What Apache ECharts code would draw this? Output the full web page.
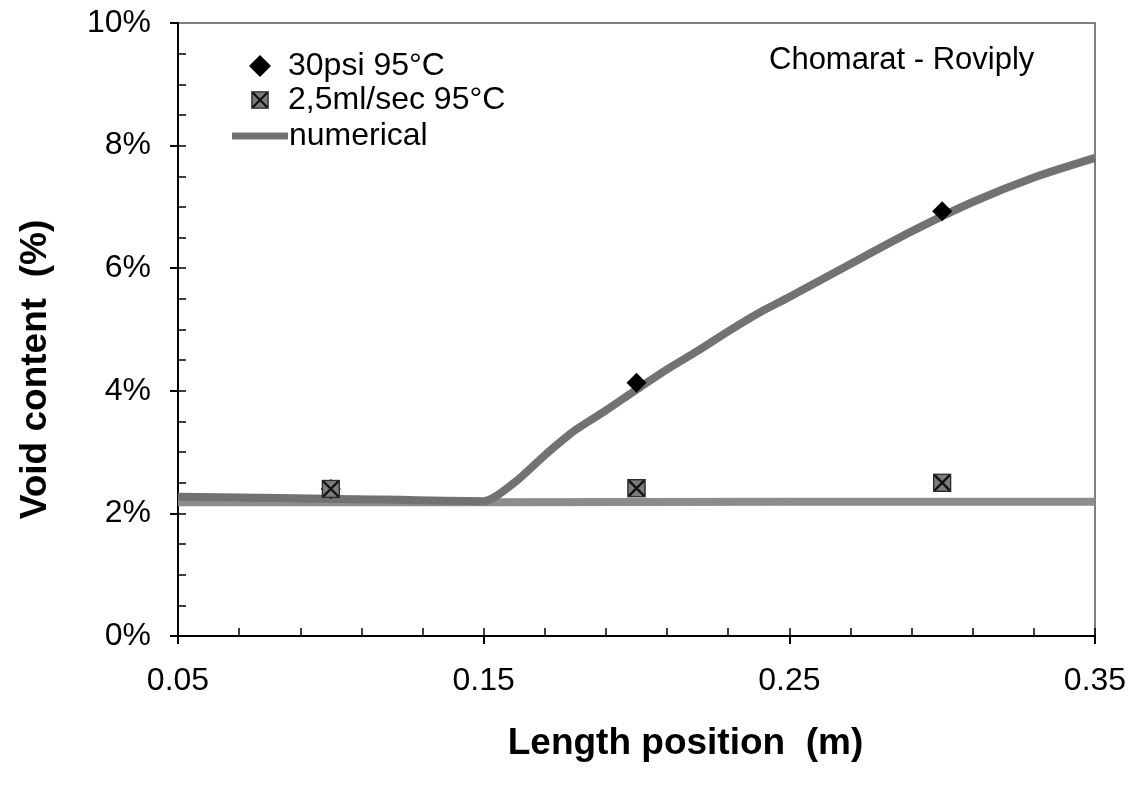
<!DOCTYPE html>
<html>
<head>
<meta charset="utf-8">
<script src="https://cdn.jsdelivr.net/npm/echarts@6/dist/echarts.min.js"></script>
<style>html,body{margin:0;padding:0;background:#fff}#c{width:1138px;height:786px}</style>
</head>
<body>
<div id="c"></div>
<script>
// ---- data ----
const numRiseX = [0.05, 0.10, 0.15, 0.16, 0.17, 0.18, 0.19, 0.20, 0.21, 0.22, 0.23, 0.24, 0.25, 0.27, 0.29, 0.31, 0.33, 0.35];
const numRiseY = [2.27, 2.24, 2.20, 2.50, 2.95, 3.36, 3.68, 4.02, 4.35, 4.65, 4.97, 5.27, 5.53, 6.07, 6.60, 7.08, 7.48, 7.80];
const numFlatX = [0.05, 0.15, 0.25, 0.35];
const numFlatY = [2.18, 2.18, 2.19, 2.19];
const psiX = [0.10, 0.20, 0.30];
const psiY = [2.40, 4.13, 6.93];
const mlX = [0.10, 0.20, 0.30];
const mlY = [2.40, 2.41, 2.50];
const xMajorTicks = [0.05, 0.15, 0.25, 0.35];
const xMinorTicks = [0.07, 0.09, 0.11, 0.13, 0.17, 0.19, 0.21, 0.23, 0.27, 0.29, 0.31, 0.33];
const yMinorTicks = [0.5,1,1.5,2,2.5,3,3.5,4,4.5,5,5.5,6,6.5,7,7.5,8,8.5,9,9.5];
const seriesNames = ['30psi 95°C', '2,5ml/sec 95°C', 'numerical'];
const noteText = 'Chomarat - Roviply';

const zip = (xs, ys) => xs.map((x, i) => [x, ys[i]]);
const font = "'Liberation Sans', Arial, sans-serif";

const sqSvg = '<svg xmlns="http://www.w3.org/2000/svg" width="40" height="40">' +
  '<rect x="2" y="2" width="36" height="36" fill="#7c7c7c" stroke="#2a2a2a" stroke-width="3"/>' +
  '<path d="M4 4L36 36M36 4L4 36" stroke="#111" stroke-width="5"/></svg>';
const sqSymbol = 'image://data:image/svg+xml;charset=utf-8,' + encodeURIComponent(sqSvg);

const legendText = {fontFamily: font, fontSize: 32, color: '#000'};

const chart = echarts.init(document.getElementById('c'), null, {renderer: 'canvas'});
chart.setOption({
  animation: false,
  backgroundColor: '#fff',
  textStyle: {fontFamily: font, color: '#000'},
  grid: {left: 178, right: 43, top: 23, bottom: 150, show: true, borderColor: '#555', borderWidth: 1.5, backgroundColor: 'transparent'},
  title: {
    text: noteText, left: 769, top: 45, padding: 0,
    textStyle: {fontFamily: font, fontSize: 31, fontWeight: 'normal', color: '#000'}
  },
  legend: [
    {
      data: [{name: seriesNames[0], icon: 'diamond'}],
      left: 249, top: 50, padding: 0, itemWidth: 22, itemHeight: 22, selectedMode: false,
      textStyle: Object.assign({}, legendText, {padding: [0, 0, 0, 12]})
    },
    {
      data: [{name: seriesNames[1], icon: sqSymbol}],
      left: 251, top: 84, padding: 0, itemWidth: 18, itemHeight: 18, selectedMode: false,
      textStyle: Object.assign({}, legendText, {padding: [0, 0, 0, 14]})
    },
    {
      data: [{name: seriesNames[2], icon: 'rect'}],
      left: 232, top: 120, padding: 0, itemWidth: 56, itemHeight: 7, selectedMode: false,
      itemStyle: {color: '#707070'},
      textStyle: Object.assign({}, legendText, {padding: [0, 0, 0, -4]})
    }
  ],
  xAxis: [
    {
      type: 'value', min: 0.05, max: 0.35, position: 'bottom',
      name: 'Length position  (m)', nameLocation: 'middle', nameGap: 89,
      nameTextStyle: {fontFamily: font, fontSize: 37, fontWeight: 'bold', color: '#000', padding: [0, 0, 0, 98]},
      axisLine: {show: true, onZero: false, lineStyle: {color: '#000', width: 2}},
      axisTick: {show: true, inside: false, length: 8, customValues: xMajorTicks, lineStyle: {color: '#000', width: 2}},
      axisLabel: {show: true, customValues: xMajorTicks, margin: 29, fontSize: 32, color: '#000', fontFamily: font, formatter: v => v.toFixed(2)},
      splitLine: {show: false}
    },
    {
      type: 'value', min: 0.05, max: 0.35, position: 'bottom', gridIndex: 0,
      axisLine: {show: false},
      axisTick: {show: true, inside: true, length: 8, customValues: xMinorTicks.concat(xMajorTicks), lineStyle: {color: '#000', width: 1.5}},
      axisLabel: {show: false}, splitLine: {show: false}
    }
  ],
  yAxis: [
    {
      type: 'value', min: 0, max: 10, interval: 2, position: 'left',
      name: 'Void content  (%)', nameLocation: 'middle', nameGap: 124, nameRotate: 90,
      nameTextStyle: {fontFamily: font, fontSize: 37, fontWeight: 'bold', color: '#000', padding: [0, 80, 0, 0]},
      axisLine: {show: true, onZero: false, lineStyle: {color: '#000', width: 2}},
      axisTick: {show: true, inside: false, length: 8, lineStyle: {color: '#000', width: 2}},
      axisLabel: {show: true, margin: 27, fontSize: 32, color: '#000', fontFamily: font, formatter: '{value}%'},
      splitLine: {show: false}
    },
    {
      type: 'value', min: 0, max: 10, position: 'left', gridIndex: 0,
      axisLine: {show: false},
      axisTick: {show: true, inside: true, length: 8, customValues: yMinorTicks, lineStyle: {color: '#000', width: 1.5}},
      axisLabel: {show: false}, splitLine: {show: false}
    }
  ],
  series: [
    {
      name: 'numerical', type: 'line', xAxisIndex: 0, yAxisIndex: 0,
      data: zip(numFlatX, numFlatY), symbol: 'none', smooth: false,
      lineStyle: {color: '#8c8c8c', width: 8}, itemStyle: {color: '#707070'}, z: 2
    },
    {
      name: 'numerical', type: 'line', xAxisIndex: 0, yAxisIndex: 0,
      data: zip(numRiseX, numRiseY), symbol: 'none', smooth: 0.25,
      lineStyle: {color: '#727272', width: 8}, itemStyle: {color: '#707070'}, z: 3
    },
    {
      name: '30psi 95°C', type: 'scatter', xAxisIndex: 0, yAxisIndex: 0,
      data: zip(psiX, psiY), symbol: 'diamond', symbolSize: 20,
      itemStyle: {color: '#000', opacity: 1}, z: 5
    },
    {
      name: '2,5ml/sec 95°C', type: 'scatter', xAxisIndex: 0, yAxisIndex: 0,
      data: zip(mlX, mlY), symbol: sqSymbol, symbolSize: 19,
      itemStyle: {color: '#7c7c7c', opacity: 1}, z: 6
    }
  ]
});
</script>
</body>
</html>
